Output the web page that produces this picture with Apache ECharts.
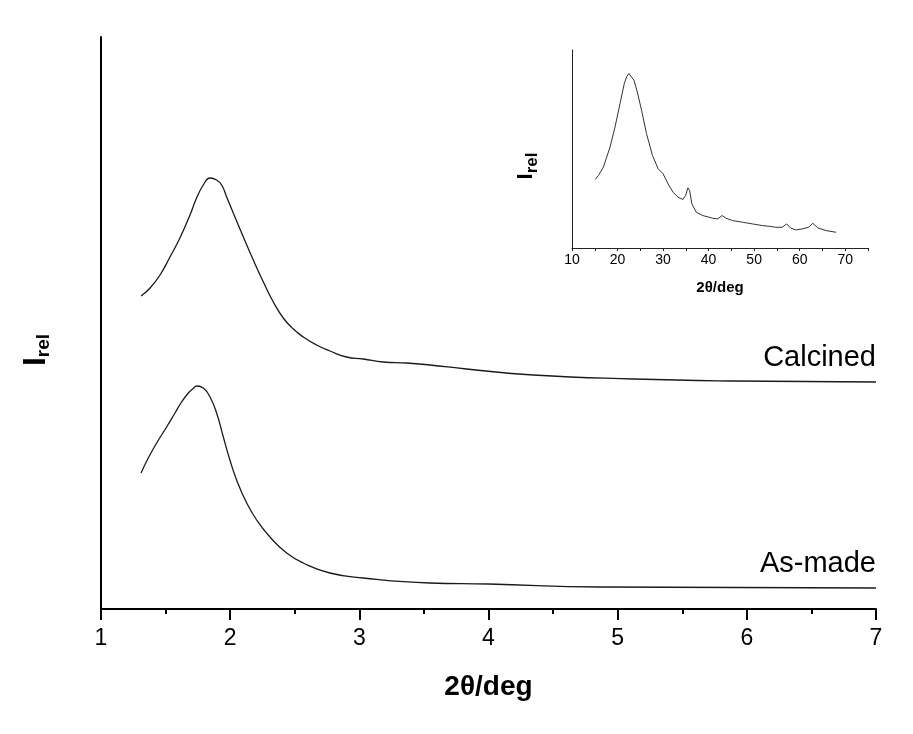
<!DOCTYPE html>
<html>
<head>
<meta charset="utf-8">
<script src="https://cdn.jsdelivr.net/npm/echarts@6/dist/echarts.min.js"></script>
<style>html,body{margin:0;padding:0;background:#fff;}#c{width:913px;height:734px;}</style>
</head>
<body>
<div id="c"></div>
<script>
// ---- main plot data (2θ in deg, relative intensity in arbitrary units) ----
const calcinedX = [1.31,1.38,1.457,1.534,1.611,1.689,1.74,1.792,1.844,1.895,1.934,1.973,2.024,2.102,2.179,2.257,2.334,2.411,2.489,2.566,2.669,2.772,2.9,3.03,3.185,3.366,3.546,3.83,4.346,5.12,5.894,7.0];
const calcinedY = [313,321,334,352,371,394,411,424,431,429,424,412,396,372,349,327,307,291,280,272,264,258,252,250,247,246,244,240,234,230,228,227];
const asMadeX = [1.31,1.366,1.431,1.508,1.573,1.624,1.676,1.71,1.741,1.792,1.844,1.895,1.947,1.998,2.05,2.128,2.205,2.308,2.437,2.566,2.772,3.03,3.546,4.0,4.862,7.0];
const asMadeY = [136,151,166,182,196,207,216,220,223,221,212,196,172,149,129,106,89,72,56,46,36,31,26,25,22,21];
const seriesNames = ['Calcined','As-made'];
const mainTicks = [1,2,3,4,5,6,7];

// ---- inset data (wide-angle pattern) ----
const insetX = [15.09,15.82,16.9,18.36,19.45,20.55,21.49,22.0,22.5,23.09,23.6,24.33,25.27,26.36,27.67,28.91,30.0,31.09,32.18,33.27,34.36,34.95,35.45,35.82,36.33,37.27,38.73,40.91,42.0,42.95,43.82,45.27,47.45,49.64,51.82,53.27,54.73,56.18,57.13,58.0,59.1,60.55,62.0,62.87,64.0,65.82,68.0];
const insetY = [205,217,242,302,362,432,492,512,522,510,502,467,412,342,277,237,222,192,167,152,145,157,180,172,132,107,97,89,87,97,89,82,77,72,67,65,62,62,72,60,54,57,62,74,60,52,47];
const insetLabelTicks = [10,20,30,40,50,60,70];
const insetTicks = [10,15,20,25,30,35,40,45,50,55,60,65,70,75];

const FONT = '"Liberation Sans", Arial, sans-serif';
const zip = (xs, ys) => xs.map((x, i) => [x, ys[i]]);
function withEndLabel(xs, ys, name) {
  const d = zip(xs, ys).map(p => ({ value: p }));
  d[d.length - 1].label = {
    show: true, formatter: name, position: 'top', align: 'right',
    distance: 10, fontSize: 29, color: '#000', fontFamily: FONT
  };
  return d;
}

const chart = echarts.init(document.getElementById('c'), null, { renderer: 'canvas' });
chart.setOption({
  animation: false,
  backgroundColor: '#fff',
  grid: [
    { left: 101, right: 37, top: 37, bottom: 125 },
    { left: 572, right: 45, top: 50, bottom: 486 }
  ],
  xAxis: [
    {
      gridIndex: 0, type: 'value', min: 1, max: 7, interval: 1,
      name: '2θ/deg', nameLocation: 'middle', nameGap: 64,
      nameTextStyle: { fontSize: 28, fontWeight: 'bold', color: '#000', fontFamily: FONT },
      axisLine: { show: true, onZero: false, lineStyle: { color: '#000', width: 2 } },
      axisTick: { show: true, inside: false, length: 11, lineStyle: { color: '#000', width: 2 } },
      minorTick: { show: true, splitNumber: 2, length: 5, lineStyle: { color: '#000', width: 2 } },
      axisLabel: { fontSize: 23, color: '#000', margin: 18, fontFamily: FONT,
        customValues: mainTicks },
      splitLine: { show: false }
    },
    {
      gridIndex: 1, type: 'value', min: 10, max: 75, interval: 10,
      name: '2θ/deg', nameLocation: 'middle', nameGap: 32,
      nameTextStyle: { fontSize: 15, fontWeight: 'bold', color: '#000', fontFamily: FONT },
      axisLine: { show: true, onZero: false, lineStyle: { color: '#222', width: 1 } },
      axisTick: { show: true, inside: false, length: 3, customValues: insetTicks, lineStyle: { color: '#222', width: 1 } },
      axisLabel: { fontSize: 14, color: '#000', margin: 5, fontFamily: FONT, customValues: insetLabelTicks },
      splitLine: { show: false }
    }
  ],
  yAxis: [
    {
      gridIndex: 0, type: 'value', min: 0, max: 572,
      axisLine: { show: true, onZero: false, lineStyle: { color: '#000', width: 2 } },
      axisTick: { show: false }, axisLabel: { show: false }, splitLine: { show: false }
    },
    {
      gridIndex: 1, type: 'value', min: 0, max: 592,
      axisLine: { show: true, onZero: false, lineStyle: { color: '#222', width: 1 } },
      axisTick: { show: false }, axisLabel: { show: false }, splitLine: { show: false }
    }
  ],
  graphic: [
    {
      type: 'text', x: 36, y: 350, rotation: Math.PI / 2,
      style: {
        text: '{a|I}{b|rel}', align: 'center', verticalAlign: 'middle',
        rich: {
          a: { fontSize: 32, fontWeight: 'bold', fill: '#000', fontFamily: FONT },
          b: { fontSize: 19, fontWeight: 'bold', fill: '#000', fontFamily: FONT, padding: [16, 0, 0, 0] }
        }
      }
    },
    {
      type: 'text', x: 526, y: 166, rotation: Math.PI / 2,
      style: {
        text: '{a|I}{b|rel}', align: 'center', verticalAlign: 'middle',
        rich: {
          a: { fontSize: 22, fontWeight: 'bold', fill: '#000', fontFamily: FONT },
          b: { fontSize: 17, fontWeight: 'bold', fill: '#000', fontFamily: FONT, padding: [12, 0, 0, 0] }
        }
      }
    }
  ],
  series: [
    {
      name: seriesNames[0], type: 'line', xAxisIndex: 0, yAxisIndex: 0,
      data: withEndLabel(calcinedX, calcinedY, seriesNames[0]),
      smooth: 0.5, symbol: 'circle', symbolSize: 0, showSymbol: true,
      lineStyle: { color: '#1a1a1a', width: 1.3 }, itemStyle: { color: '#1a1a1a' }
    },
    {
      name: seriesNames[1], type: 'line', xAxisIndex: 0, yAxisIndex: 0,
      data: withEndLabel(asMadeX, asMadeY, seriesNames[1]),
      smooth: 0.5, symbol: 'circle', symbolSize: 0, showSymbol: true,
      lineStyle: { color: '#1a1a1a', width: 1.3 }, itemStyle: { color: '#1a1a1a' }
    },
    {
      name: 'inset', type: 'line', xAxisIndex: 1, yAxisIndex: 1,
      data: zip(insetX, insetY), showSymbol: false, smooth: false,
      lineStyle: { color: '#333', width: 1 }
    }
  ]
});
</script>
</body>
</html>
